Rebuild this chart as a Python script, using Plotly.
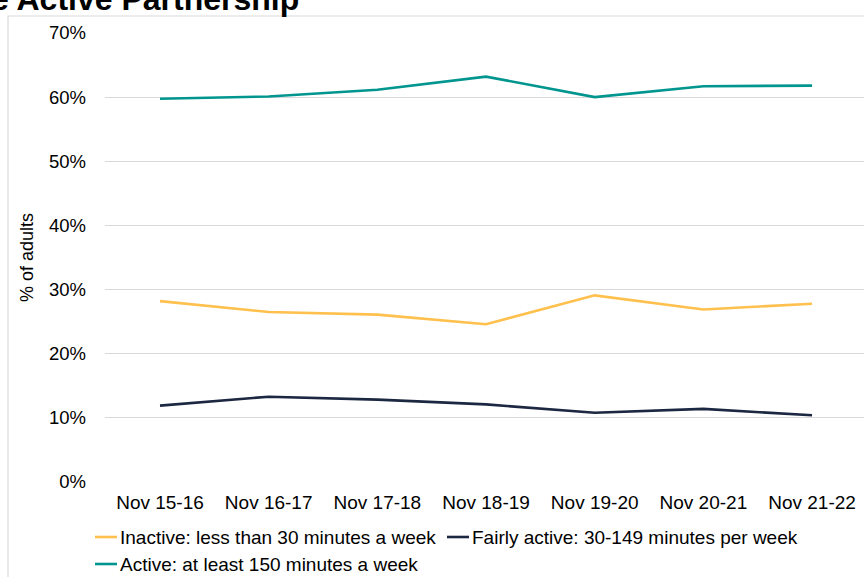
import plotly.graph_objects as go

categories = ["Nov 15-16", "Nov 16-17", "Nov 17-18", "Nov 18-19", "Nov 19-20", "Nov 20-21", "Nov 21-22"]
inactive = [28.2, 26.5, 26.1, 24.6, 29.1, 26.9, 27.8]
fairly_active = [11.9, 13.3, 12.85, 12.1, 10.8, 11.4, 10.4]
active = [59.75, 60.1, 61.15, 63.2, 60.0, 61.7, 61.8]

series_names = [
    "Inactive: less than 30 minutes a week",
    "Fairly active: 30-149 minutes per week",
    "Active: at least 150 minutes a week",
]
colors = ["#FFC04D", "#1C2742", "#00968F"]
y_ticks = [0, 10, 20, 30, 40, 50, 60, 70]
y_tick_labels = ["0%", "10%", "20%", "30%", "40%", "50%", "60%", "70%"]

FONT = "Liberation Sans, Arial, sans-serif"

W, H = 864, 577
L, R, T, B = 105, 0, 33, 95
PW, PH = W - L - R, H - T - B


def px(x):
    return (x - L) / PW


def py(y):
    return (T + PH - y) / PH


fig = go.Figure()
for name, vals, col in zip(series_names, [inactive, fairly_active, active], colors):
    fig.add_trace(go.Scatter(
        x=categories, y=vals, mode="lines", name=name,
        line=dict(color=col, width=2.6), showlegend=False,
    ))

# manual legend (pixel layout)
legend_pos = [(95, 537), (447, 537), (95, 564)]
shapes = [dict(
    type="rect", xref="paper", yref="paper",
    x0=px(8), x1=px(W + 20), y0=py(H + 20), y1=py(16),
    line=dict(color="#D9D9D9", width=1.2), fillcolor="rgba(0,0,0,0)", layer="below",
)]
annotations = [dict(
    text="<b>e Active Partnership</b>", xref="paper", yref="paper",
    x=px(-11), y=py(-1), xanchor="left", yanchor="middle", showarrow=False,
    font=dict(family=FONT, size=32, color="#000000"),
)]
for name, col, (lx, ly) in zip(series_names, colors, legend_pos):
    shapes.append(dict(
        type="line", xref="paper", yref="paper",
        x0=px(lx), x1=px(lx + 22), y0=py(ly), y1=py(ly),
        line=dict(color=col, width=2.6),
    ))
    annotations.append(dict(
        text=name, xref="paper", yref="paper",
        x=px(lx + 23), y=py(ly), xanchor="left", yanchor="middle",
        showarrow=False, font=dict(family=FONT, size=19, color="#000000"),
    ))

fig.update_layout(
    width=W, height=H,
    margin=dict(l=L, r=R, t=T, b=B, autoexpand=False),
    paper_bgcolor="white", plot_bgcolor="white",
    font=dict(family=FONT, size=19, color="#000000"),
    showlegend=False,
    xaxis=dict(
        type="category", range=[-0.506, 6.478],
        showgrid=False, zeroline=False, showline=False,
        ticks="", tickfont=dict(size=19, family=FONT, color="#000000"),
        ticklabelstandoff=7,
    ),
    yaxis=dict(
        range=[0, 70], tickvals=y_ticks, ticktext=y_tick_labels,
        showgrid=True, gridcolor="#D9D9D9", gridwidth=1,
        zeroline=False, showline=False, ticks="",
        tickfont=dict(size=18.5, family=FONT, color="#000000"),
        ticklabelstandoff=18,
        title=dict(text="% of adults", font=dict(size=18, family=FONT, color="#000000"), standoff=10),
    ),
    shapes=shapes,
    annotations=annotations,
)

fig.write_html("out.html")
